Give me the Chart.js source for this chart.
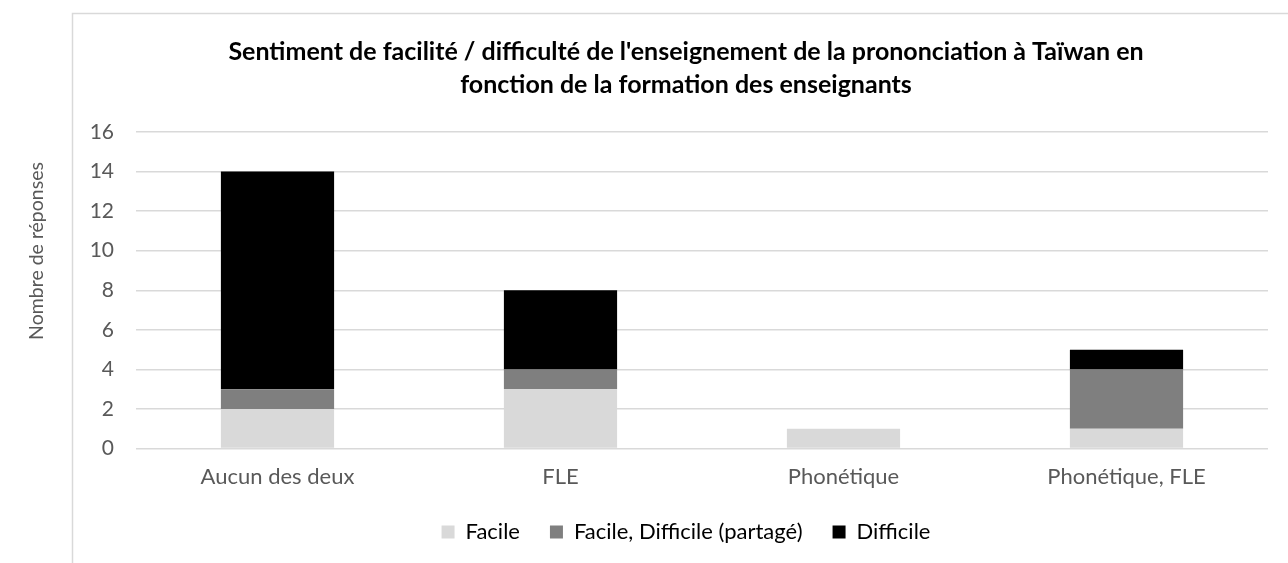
<!DOCTYPE html>
<html>
<head>
<meta charset="utf-8">
<script src="https://cdn.jsdelivr.net/npm/chart.js@4"></script>
<style>
  html, body { margin:0; padding:0; background:#fff; }
  #wrap { width:1288px; height:563px; position:relative; }
</style>
</head>
<body>
<div id="wrap"><canvas id="chart" width="1288" height="563"></canvas></div>
<script>
// categories (teacher training) and response counts per feeling
const categories = ['Aucun des deux', 'FLE', 'Phonétique', 'Phonétique, FLE'];
const facile     = [2, 3, 1, 1];
const partage    = [1, 1, 0, 3];
const difficile  = [11, 4, 0, 1];
const seriesNames = ['Facile', 'Facile, Difficile (partagé)', 'Difficile'];
const titleLines = [
  "Sentiment de facilité / difficulté de l'enseignement de la prononciation à Taïwan en",
  'fonction de la formation des enseignants'
];
const yTitle = 'Nombre de réponses';

const FONT = 'Lato, "Open Sans", "Liberation Sans", sans-serif';

// frame of the chart box + y title sitting outside it (as in the Excel export)
const frame = {
  id: 'frame',
  afterLayout(chart) {
    // legend padding is large for the horizontal gaps; pull the row back up
    chart.legend.top -= 14;
    chart.legend.bottom -= 14;
  },
  beforeDraw(chart) {
    const c = chart.ctx;
    c.save();
    c.strokeStyle = '#d9d9d9';
    c.lineWidth = 1.5;
    c.beginPath();
    c.moveTo(72.5, 563);
    c.lineTo(72.5, 13.5);
    c.lineTo(1288, 13.5);
    c.stroke();
    c.translate(37, 251);
    c.rotate(-Math.PI / 2);
    c.fillStyle = '#595959';
    c.font = '19.5px ' + FONT;
    c.textAlign = 'center';
    c.textBaseline = 'middle';
    c.fillText(yTitle, 0, 0);
    c.restore();
  }
};

new Chart(document.getElementById('chart'), {
  type: 'bar',
  data: {
    labels: categories,
    datasets: [
      { label: seriesNames[0], data: facile,    backgroundColor: '#d9d9d9' },
      { label: seriesNames[1], data: partage,   backgroundColor: '#7f7f7f' },
      { label: seriesNames[2], data: difficile, backgroundColor: '#000000' },
    ]
  },
  options: {
    responsive: false,
    animation: false,
    layout: { padding: { left: 84, right: 0, top: 0, bottom: -4 } },
    datasets: { bar: { categoryPercentage: 1, barPercentage: 0.4 } },
    plugins: {
      title: {
        display: true,
        text: titleLines,
        color: '#000',
        font: { family: FONT, size: 25, weight: 'bold', lineHeight: 1.3 },
        padding: { top: 36, bottom: 31 }
      },
      legend: {
        position: 'bottom',
        labels: {
          color: '#000',
          font: { family: FONT, size: 22 },
          boxWidth: 13, boxHeight: 13,
          padding: 30,
          useBorderRadius: false
        }
      },
      tooltip: { enabled: false }
    },
    scales: {
      x: {
        stacked: true,
        grid: { display: false, drawTicks: false },
        border: { display: false },
        ticks: { color: '#595959', font: { family: FONT, size: 22 }, padding: 15 }
      },
      y: {
        stacked: true,
        min: 0, max: 16,
        ticks: { stepSize: 2, color: '#595959', font: { family: FONT, size: 21 }, padding: 22 },
        grid: { color: '#d9d9d9', lineWidth: 1.5, drawTicks: false },
        border: { display: false },
        afterFit(s) { s.width = 52; }
      },
      // empty spacer on the right so the plot stops where the Excel plot did
      y2: {
        position: 'right',
        display: true,
        grid: { display: false, drawTicks: false },
        ticks: { display: false },
        border: { display: false },
        afterFit(s) { s.width = 20; }
      }
    }
  },
  plugins: [frame]
});
</script>
</body>
</html>
